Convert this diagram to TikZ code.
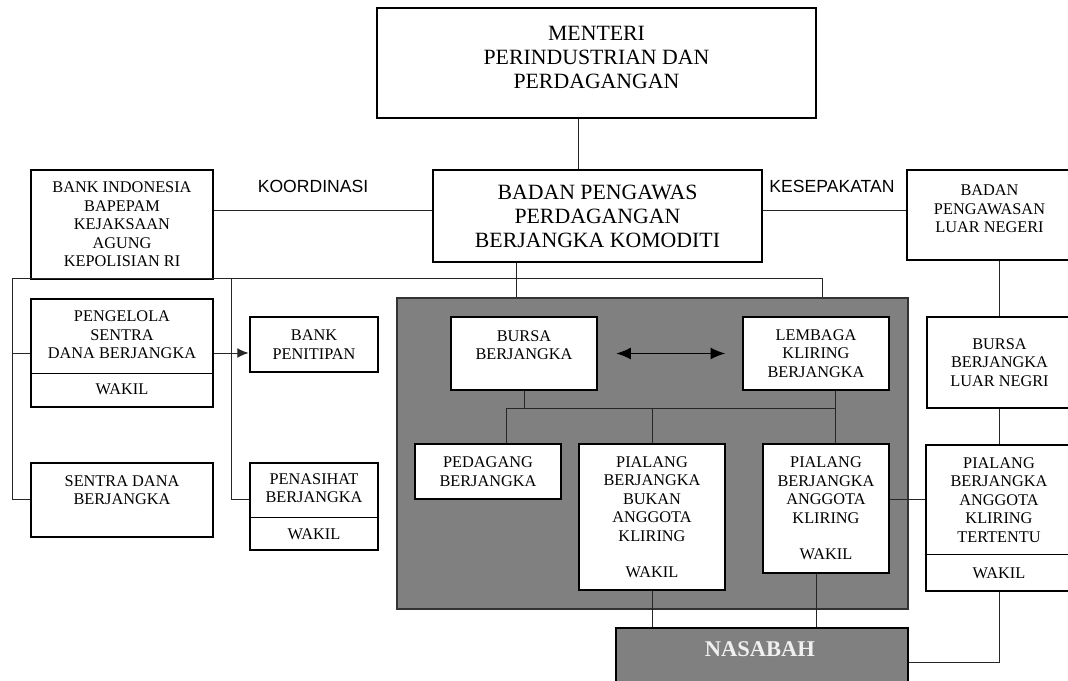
\documentclass[tikz,border=0pt]{standalone}
\usepackage{fontspec}
\setmainfont{Liberation Serif}
\newfontfamily\labelsans{Liberation Sans}
\usetikzlibrary{arrows.meta}
\definecolor{panelgray}{RGB}{128,128,128}

\begin{document}
\begin{tikzpicture}[x=0.025cm, y=-0.025cm,
    orgbox/.style 2 args={draw=black, line width=2.1pt, fill=white, rectangle, inner sep=0pt, align=center, minimum width=#1*0.025cm, minimum height=#2*0.025cm, font=\fontsize{11.6}{13.2}\selectfont},
    inbox/.style 2 args={orgbox={#1}{#2}, line width=1pt},
    headbox/.style 2 args={orgbox={#1}{#2}, font=\fontsize{15.5}{17}\selectfont},
    wire/.style={line width=0.7pt, draw=black!85},
    divider/.style={line width=0.7pt},
    sidenote/.style={font=\labelsans\fontsize{12.5}{14}\selectfont}]
	\useasboundingbox (0,0) rectangle (1068,681);
	\clip (0,0) rectangle (1068,681);
	\node [headbox={439}{110}] (menteri) at (596.5,63) {MENTERI\\PERINDUSTRIAN DAN\\PERDAGANGAN\\[-8.5pt]\mbox{}};
	\node [headbox={329}{92}] (bappebti) at (597.5,216) {BADAN PENGAWAS\\PERDAGANGAN\\BERJANGKA KOMODITI};
	\node [orgbox={182}{109}] (bankind) at (122,224.5) {BANK INDONESIA\\BAPEPAM\\KEJAKSAAN\\AGUNG\\KEPOLISIAN RI};
	\node [sidenote] (koordinasi) at (313,186) {KOORDINASI};
	\node [sidenote] (kesepakatan) at (832,186) {KESEPAKATAN};
	\node [orgbox={165}{90}] (luarneg) at (989.5,215) {BADAN\\PENGAWASAN\\LUAR NEGERI\\[-4.7pt]\mbox{}};
	\node [orgbox={182}{108}] (pengelola) at (122,353) {PENGELOLA\\SENTRA\\DANA BERJANGKA\\[12.5pt]WAKIL};
	\node [orgbox={128}{55}] (penitipan) at (314,344.5) {BANK\\PENITIPAN};
	\node [orgbox={182}{74}] (sentra) at (122,500) {SENTRA DANA\\BERJANGKA\\[1pt]\mbox{}};
	\node [orgbox={128}{87}] (penasihat) at (314,506.5) {PENASIHAT\\BERJANGKA\\[12.5pt]WAKIL};
	\node [draw=black!80, line width=1pt, fill=panelgray, inner sep=0pt, minimum width=511*0.025cm, minimum height=311*0.025cm] (panel) at (652.5,453.5) {};
	\node [inbox={146}{73}] (bursa) at (524,353.5) {BURSA\\BERJANGKA\\[-1pt]\mbox{}};
	\node [inbox={146}{73}] (lembaga) at (816,353.5) {LEMBAGA\\KLIRING\\BERJANGKA};
	\node [inbox={146}{55}] (pedagang) at (488,471.5) {PEDAGANG\\BERJANGKA};
	\node [inbox={146}{146}] (bukan) at (652,517) {PIALANG\\BERJANGKA\\BUKAN\\ANGGOTA\\KLIRING\\[12.5pt]WAKIL};
	\node [inbox={126}{129}] (anggota) at (826,508.5) {PIALANG\\BERJANGKA\\ANGGOTA\\KLIRING\\[12.5pt]WAKIL};
	\node [draw=black, line width=0.8pt, fill=panelgray, inner sep=0pt, minimum width=292*0.025cm, minimum height=80*0.025cm] (nasabah) at (762,668) {};
	\node [font=\fontsize{16}{18}\selectfont\bfseries, text=white!88!gray] (nasabahtext) at (760,649) {NASABAH};
	\node [orgbox={145}{91}] (bursaluar) at (999.5,362.5) {BURSA\\BERJANGKA\\LUAR NEGRI};
	\node [orgbox={146}{146}] (tertentu) at (999,518) {PIALANG\\BERJANGKA\\ANGGOTA\\KLIRING\\TERTENTU\\[12.5pt]WAKIL};
	\coordinate (topx) at (578,0);
	\coordinate (linky) at (0,210);
	\coordinate (busw) at (12,278);
	\coordinate (busm) at (231,278);
	\coordinate (buse) at (822,278);
	\coordinate (midx) at (516,0);
	\coordinate (lowy) at (0,499);
	\coordinate (panelbus) at (0,408);
	\coordinate (leftx) at (506,0);
	\coordinate (rightx) at (835,0);
	\coordinate (tiex) at (816,0);
	\coordinate (rx) at (999,0);
	\coordinate (nasy) at (0,662);
	\draw [divider] (pengelola.west |- 0,373) -- (pengelola.east |- 0,373);
	\draw [divider] (penasihat.west |- 0,517) -- (penasihat.east |- 0,517);
	\draw [divider] (tertentu.west |- 0,554) -- (tertentu.east |- 0,554);
	\draw [wire] (menteri.south -| topx) -- (bappebti.north -| topx);
	\draw [wire] (bankind.east |- linky) -- (bappebti.west |- linky);
	\draw [wire] (bappebti.east |- linky) -- (luarneg.west |- linky);
	\draw [wire] (bappebti.south -| midx) -- (panel.north -| midx);
	\draw [wire] (busw) -- (buse) -- (panel.north -| buse);
	\draw [wire] (busw) -- (busw |- lowy) -- (sentra.west |- lowy);
	\draw [wire] (busw |- pengelola.west) -- (pengelola.west);
	\draw [wire] (busm) -- (busm |- lowy) -- (penasihat.west |- lowy);
	\draw [wire, -{Latex[length=8pt, width=7pt]}] (pengelola.east) -- (pengelola.east -| penitipan.west);
	\draw [wire, line width=1.4pt, draw=black, {Latex[length=10.5pt, width=8.5pt]}-{Latex[length=10.5pt, width=8.5pt]}, shorten <=13pt, shorten >=12pt] (bursa.east) -- (lembaga.west);
	\draw [wire] (bursa.south) -- (bursa.south |- panelbus);
	\draw [wire] (pedagang.north -| leftx) -- (leftx |- panelbus) -- (rightx |- panelbus);
	\draw [wire] (lembaga.south -| rightx) -- (anggota.north -| rightx);
	\draw [wire] (bukan.north) -- (bukan.north |- panelbus);
	\draw [wire] (bukan.south) -- (nasabah.north -| bukan.south);
	\draw [wire] (anggota.south -| tiex) -- (nasabah.north -| tiex);
	\draw [wire] (anggota.east |- lowy) -- (tertentu.west |- lowy);
	\draw [wire] (luarneg.south -| rx) -- (bursaluar.north -| rx);
	\draw [wire] (bursaluar.south -| rx) -- (tertentu.north -| rx);
	\draw [wire] (tertentu.south -| rx) -- (rx |- nasy) -- (nasabah.east |- nasy);
\end{tikzpicture}
\end{document}
